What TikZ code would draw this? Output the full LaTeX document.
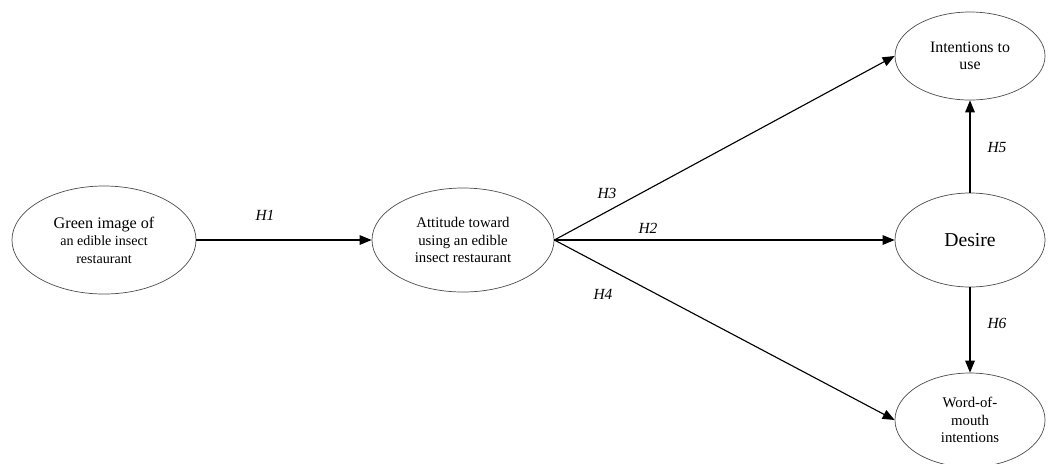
\documentclass[tikz,border=0pt]{standalone}
\usepackage{fontspec}
\setmainfont{Liberation Serif}
\usetikzlibrary{shapes.geometric,arrows.meta}

\begin{document}
\begin{tikzpicture}[x=0.025cm,y=-0.025cm,
  construct/.style={ellipse,draw=black!70,line width=0.5pt,inner sep=0pt,align=center,font=\fontsize{10.5}{12.5}\selectfont},
  hyparrow/.style={->,line width=0.8pt,>={Triangle[length=3mm,width=2.4mm]}},
  hyp/.style={font=\fontsize{11}{13}\selectfont\itshape}]
 \useasboundingbox (0,0) rectangle (1049,463);

 \node[construct,minimum width=4.6cm,minimum height=2.7cm,font=\fontsize{11.5}{12.5}\selectfont] (green) at (104,240) {Green image of\\{\fontsize{10}{12.5}\selectfont an edible insect}\\{\fontsize{10}{12.5}\selectfont restaurant}};
 \node[construct,minimum width=4.55cm,minimum height=2.6cm] (att) at (463,240) {Attitude toward\\using an edible\\insect restaurant};
 \node[construct,minimum width=3.75cm,minimum height=2.2cm,font=\fontsize{11.3}{12.5}\selectfont] (int) at (970,56) {Intentions to\\use};
 \node[construct,minimum width=3.75cm,minimum height=2.35cm,font=\fontsize{14}{16}\selectfont] (des) at (970,240) {Desire};
 \node[construct,minimum width=3.75cm,minimum height=2.35cm] (wom) at (970,420) {Word-of-\\mouth\\intentions};

 \draw[hyparrow] (green) -- (att);
 \draw[hyparrow] (att.east) -- (des.west);
 \draw[hyparrow] (att.east) -- (int.west);
 \draw[hyparrow] (att.east) -- (wom.west);
 \draw[hyparrow] (des) -- (int);
 \draw[hyparrow] (des) -- (wom);

 \node[hyp] (h1) at (265,215) {H1};
 \node[hyp] (h2) at (648,228) {H2};
 \node[hyp] (h3) at (607,193) {H3};
 \node[hyp] (h4) at (603,294) {H4};
 \node[hyp] (h5) at (997,148) {H5};
 \node[hyp] (h6) at (997,323) {H6};
\end{tikzpicture}
\end{document}
